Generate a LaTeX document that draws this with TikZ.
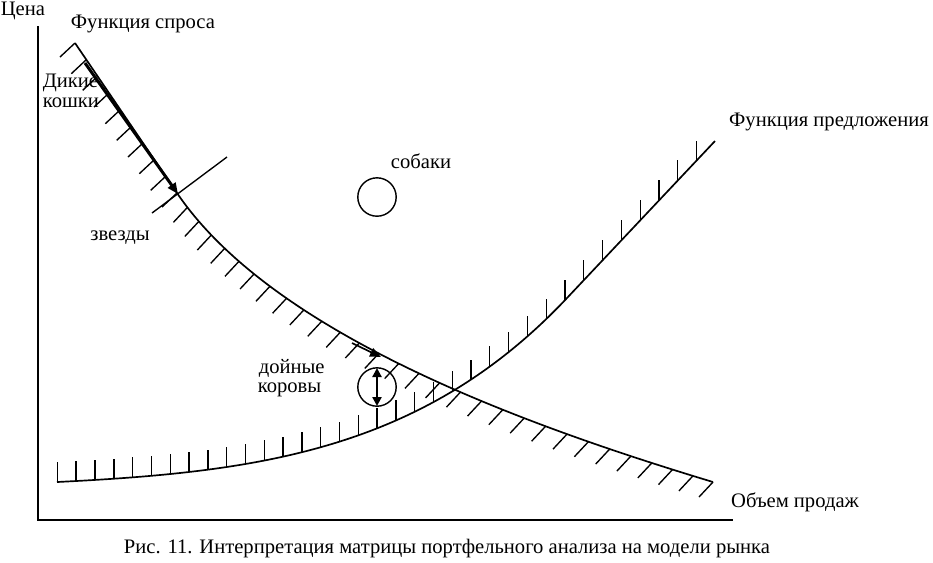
\documentclass[tikz,border=0pt]{standalone}
\usepackage{fontspec}
\setmainfont{Liberation Serif}
\usetikzlibrary{arrows.meta,intersections}
\begin{document}
\begin{tikzpicture}[x=0.25pt,y=-0.25pt,
  axis/.style={line width=0.65pt},
  curve/.style={line width=0.42pt},
  hatch/.style={line width=0.34pt},
  lbl/.style={font=\fontsize{5.15}{6}\selectfont, inner sep=0pt},
  blob/.style={circle, draw, line width=0.35pt, minimum size=9.6pt, inner sep=0pt},
  bigtip/.style={-{Triangle[length=2.75pt,width=2.25pt]}},
  dbltip/.style={{Triangle[length=2.25pt,width=2.25pt]}-{Triangle[length=2.25pt,width=2.25pt]}},
]
\useasboundingbox (0,0) rectangle (933,562);

% axes
\coordinate (ytop) at (38,26);
\coordinate (O) at (38,520);
\coordinate (xend) at (733,520);
\draw[axis] (ytop) -- (O) -- (xend);

% demand curve
\coordinate (d0) at (75,43);
\coordinate (d1) at (177,193);
\coordinate (dc1) at (272.5,333.6);
\coordinate (dc2) at (521,424);
\coordinate (d2) at (713,482);
\draw[curve] (d0) -- (d1) .. controls (dc1) and (dc2) .. (d2);
\foreach \i in {0,...,9} {
  \path (d0) -- (d1) coordinate[pos=\i/9] (q);
  \draw[hatch] (q) -- ++(-15,14);
}
\foreach \i in {1,...,29} {
  \path (d1) .. controls (dc1) and (dc2) .. (d2) coordinate[pos=\i/29] (q);
  \draw[hatch] (q) -- ++(-14,15);
}

% supply curve
\coordinate (s0) at (57,482);
\coordinate (sc1) at (257,472);
\coordinate (sc2) at (423,451);
\coordinate (s1) at (567,298);
\coordinate (s2) at (715,141);
\draw[curve, name path=supply] (s0) .. controls (sc1) and (sc2) .. (s1) -- (s2);
\foreach \k in {0,...,34} {
  \pgfmathsetmacro\xx{57.4+18.8*\k}
  \path[name path=vl] (\xx,0) -- (\xx,600);
  \path[name intersections={of=supply and vl, by=sp}];
  \draw[hatch] (sp) -- ++(0,-20);
}

% thick arrow along demand
\coordinate (a1) at (85,63);
\coordinate (a2) at (178,194);
\draw[line width=0.75pt, bigtip] (a1) -- (a2);
% tangent line
\coordinate (t1) at (227,157);
\coordinate (t2) at (152,213);
\draw[hatch] (t1) -- (t2);
% second arrow on demand
\coordinate (b1) at (352,343);
\coordinate (b2) at (381,357);
\draw[curve, bigtip] (b1) -- (b2);

% circles
\node[blob] (dogs) at (377,197) {};
\node[blob] (cows) at (377,387) {};
\coordinate (c1) at (377,368);
\coordinate (c2) at (377,406);
\draw[line width=0.7pt, dbltip] (c1) -- (c2);

% labels
\node[lbl, anchor=west] (price) at (0,11) {Цена};
\node[lbl] (dem) at (143,24) {Функция спроса};
\node[lbl, anchor=west] (wc1) at (42,83) {Дикие};
\node[lbl, anchor=west] (wc2) at (42,103) {кошки};
\node[lbl] (stars) at (120,238) {звезды};
\node[lbl] (dogl) at (421,161) {собаки};
\node[lbl, anchor=west] (cow1) at (258,368) {дойные};
\node[lbl, anchor=west] (cow2) at (257,390) {коровы};
\node[lbl] (sup) at (829,122) {Функция предложения};
\node[lbl] (vol) at (795,502) {Объем продаж};
\node[lbl] (cap) at (447,549) {Рис. 11. Интерпретация матрицы портфельного анализа на модели рынка};
\end{tikzpicture}
\end{document}
